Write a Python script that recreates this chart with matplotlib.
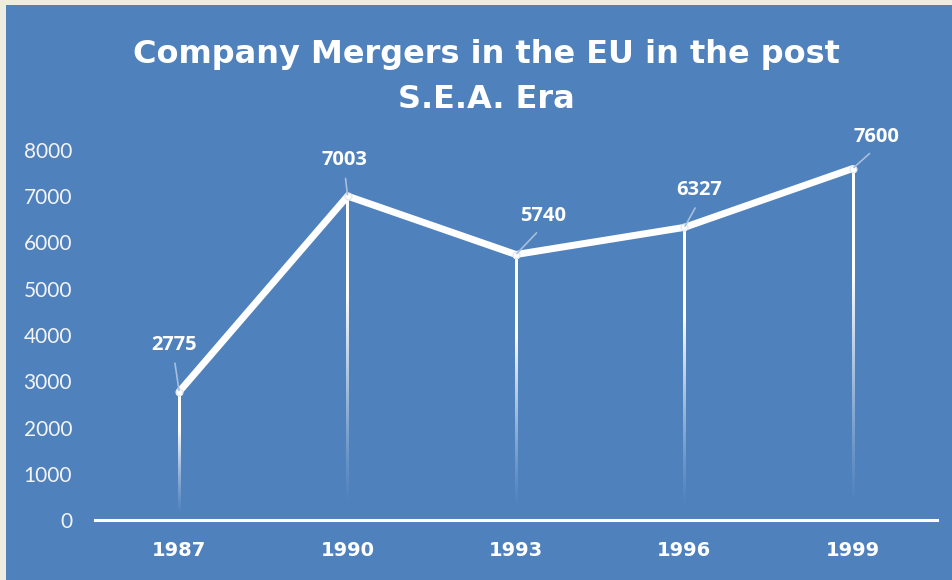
import numpy as np
import matplotlib
matplotlib.use("Agg")
import matplotlib.pyplot as plt
from matplotlib.patches import Rectangle

# ---- data ----
years = ["1987", "1990", "1993", "1996", "1999"]
mergers = [2775, 7003, 5740, 6327, 7600]
title = "Company Mergers in the EU in the post\nS.E.A. Era"
y_ticks = [0, 1000, 2000, 3000, 4000, 5000, 6000, 7000, 8000]

# label offsets (pixels, relative to point)
label_offsets = [(-5.5, 46.7), (-3, 36), (27, 38.5), (15, 37), (24, 31.5)]

BLUE = "#4F81BD"
BEIGE = "#EEECE1"
W, H = 953, 580

fig = plt.figure(figsize=(W / 100, H / 100), dpi=100, facecolor=BEIGE)
bg = Rectangle((6 / W, 0), 1, 575 / H, transform=fig.transFigure,
               facecolor=BLUE, edgecolor="none", zorder=-10)
fig.add_artist(bg)

ax = fig.add_axes([95 / W, 1 - 520 / H, (937 - 95) / W, (520 - 150) / H])
ax.set_zorder(1)
ax.set_facecolor("none")
x = np.arange(len(years))
ax.set_xlim(-0.5, len(years) - 0.5)
ax.set_ylim(0, 8000)

for s in ["top", "right", "left"]:
    ax.spines[s].set_visible(False)
ax.spines["bottom"].set_color("white")
ax.spines["bottom"].set_linewidth(2.2)

ax.set_yticks(y_ticks)
ax.set_yticklabels([str(v) for v in y_ticks], fontsize=15, family="Lato", color="#F4F4F4")
ax.tick_params(axis="y", length=0, pad=16.5)
ax.set_xticks(x)
ax.set_xticklabels(years, fontsize=14, family="DejaVu Sans", fontweight="bold", color="white")
ax.tick_params(axis="x", length=0, pad=15)

# drop lines with fading gradient (vertical gradient image)
half_w = 1.25 / ((937 - 95) / len(years))  # ~1.25 px in data units
n = 200
t = np.linspace(1, 0, n)  # top -> bottom
alpha = np.clip((t - 0.03) * 1.5, 0, 1) ** 1.3
grad = np.ones((n, 2, 4))
grad[:, :, 3] = alpha[:, None]
for xi, v in zip(x, mergers):
    ax.imshow(grad, extent=(xi - half_w, xi + half_w, 0, v), aspect="auto",
              interpolation="bilinear", zorder=2)
ax.set_xlim(-0.5, len(years) - 0.5)
ax.set_ylim(0, 8000)

ax.plot(x, mergers, color="white", linewidth=5.0, solid_capstyle="round",
        solid_joinstyle="miter", zorder=3)
ax.plot(x, mergers, "o", color="white", markersize=5, markeredgecolor="#DCE6F2",
        markeredgewidth=0.8, zorder=4)

for xi, v, (dx, dy) in zip(x, mergers, label_offsets):
    ax.annotate(str(v), xy=(xi, v), xytext=(dx, dy), textcoords="offset pixels",
                ha="center", va="center", fontsize=14.5, family="Open Sans",
                fontweight="bold", color="white", zorder=5,
                arrowprops=dict(arrowstyle="-", color="#A7BEDD", lw=1.2,
                                shrinkA=4, shrinkB=1, relpos=(0.5, 0)))

fig.text(486 / W, 1 - 77 / H, title, ha="center", va="center", fontsize=23,
         family="DejaVu Sans", fontweight="bold", color="white", linespacing=1.62)

fig.savefig("out.png", dpi=100, facecolor=BEIGE)
